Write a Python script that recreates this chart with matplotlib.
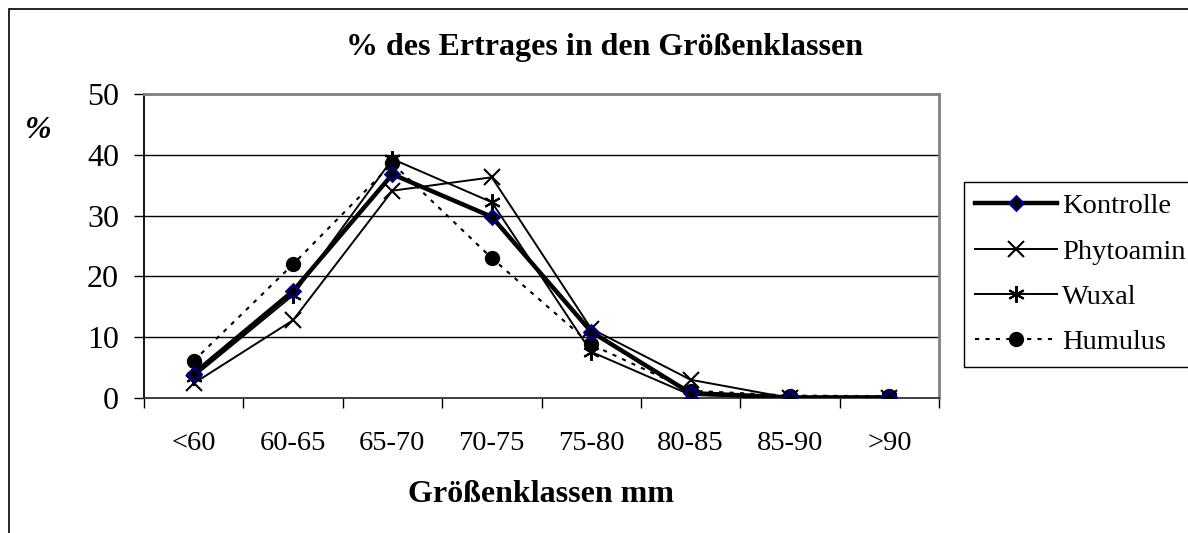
import matplotlib
matplotlib.use('Agg')
import matplotlib.pyplot as plt
from matplotlib.patches import Rectangle
import numpy as np

plt.rcParams['font.family'] = ['Liberation Serif', 'DejaVu Serif']

classes = ['<60', '60-65', '65-70', '70-75', '75-80', '80-85', '85-90', '>90']
kontrolle = [4.0, 17.6, 36.8, 29.8, 10.9, 0.8, 0.1, 0.1]
phytoamin = [2.4, 12.8, 34.1, 36.3, 11.4, 3.0, 0.0, 0.0]
wuxal = [3.5, 16.9, 39.3, 32.2, 7.6, 0.5, 0.0, 0.1]
humulus = [6.1, 22.0, 38.6, 23.0, 8.8, 1.2, 0.4, 0.3]

W, H = 1188, 533
fig = plt.figure(figsize=(W / 100, H / 100), dpi=100)
ax = fig.add_axes([144 / W, 1 - 398 / H, (939 - 144) / W, (398 - 94) / H])

# outer chart border (only top and left inside the picture)
fig.patches.append(Rectangle((8.5 / W, -0.2), 1.3, 1.2 - 9 / H, transform=fig.transFigure,
                             fill=False, edgecolor='black', linewidth=1.2, zorder=0))

x = np.arange(len(classes))
ax.plot(x, kontrolle, color='black', lw=3.2, marker='D', ms=7.5, mfc='black',
        mec='#000080', mew=1.8, label='Kontrolle', zorder=5)
ax.plot(x, phytoamin, color='black', lw=1.4, marker='x', ms=11, mew=1.5,
        label='Phytoamin', zorder=4)
ax.plot(x, wuxal, color='black', lw=1.4, marker=(6, 2, 0), ms=12, mew=1.5,
        label='Wuxal', zorder=4)
ax.plot(x, humulus, color='black', lw=1.5, ls=(0, (2, 3)), marker='o', ms=10,
        label='Humulus', zorder=3)

ax.set_xlim(-0.5, len(classes) - 0.5)
ax.set_ylim(0, 50)
ax.set_yticks(np.arange(0, 51, 10))
ax.yaxis.grid(True, color='black', lw=1)
ax.set_axisbelow(True)

# labels in the middle of each class, tick marks between the classes
ax.set_xticks(x)
ax.set_xticklabels(classes)
ax.set_xticks(np.arange(-0.5, len(classes), 1), minor=True)
ax.tick_params(axis='x', which='major', length=0, pad=24, labelsize=20.5)
ax.tick_params(axis='x', which='minor', length=7, width=1, direction='out')
ax.tick_params(axis='y', length=7, width=1, pad=11, labelsize=23)

for s in ['top', 'right']:
    ax.spines[s].set_color('#808080')
    ax.spines[s].set_linewidth(2)
ax.spines['left'].set_linewidth(1.3)
ax.spines['bottom'].set_linewidth(1.3)
ax.spines['bottom'].set_color('#333333')

fig.text(604 / W, 1 - 48 / H, '% des Ertrages in den Größenklassen', ha='center', va='center',
         fontsize=23, fontweight='bold')
fig.text(541 / W, 1 - 495 / H, 'Größenklassen mm', ha='center', va='center',
         fontsize=23, fontweight='bold')
fig.text(38 / W, 1 - 131 / H, '%', ha='center', va='center', fontsize=23,
         fontweight='bold', fontstyle='italic')

leg = ax.legend(loc='upper left', bbox_to_anchor=(964 / W, 1 - 182 / H),
                bbox_transform=fig.transFigure, borderaxespad=0, fontsize=20.5,
                frameon=True, fancybox=False, edgecolor='black', framealpha=1,
                handlelength=2.85, handletextpad=0.2, labelspacing=0.68,
                borderpad=0.4)
leg.get_frame().set_linewidth(1)

fig.savefig('out.png', dpi=100)
